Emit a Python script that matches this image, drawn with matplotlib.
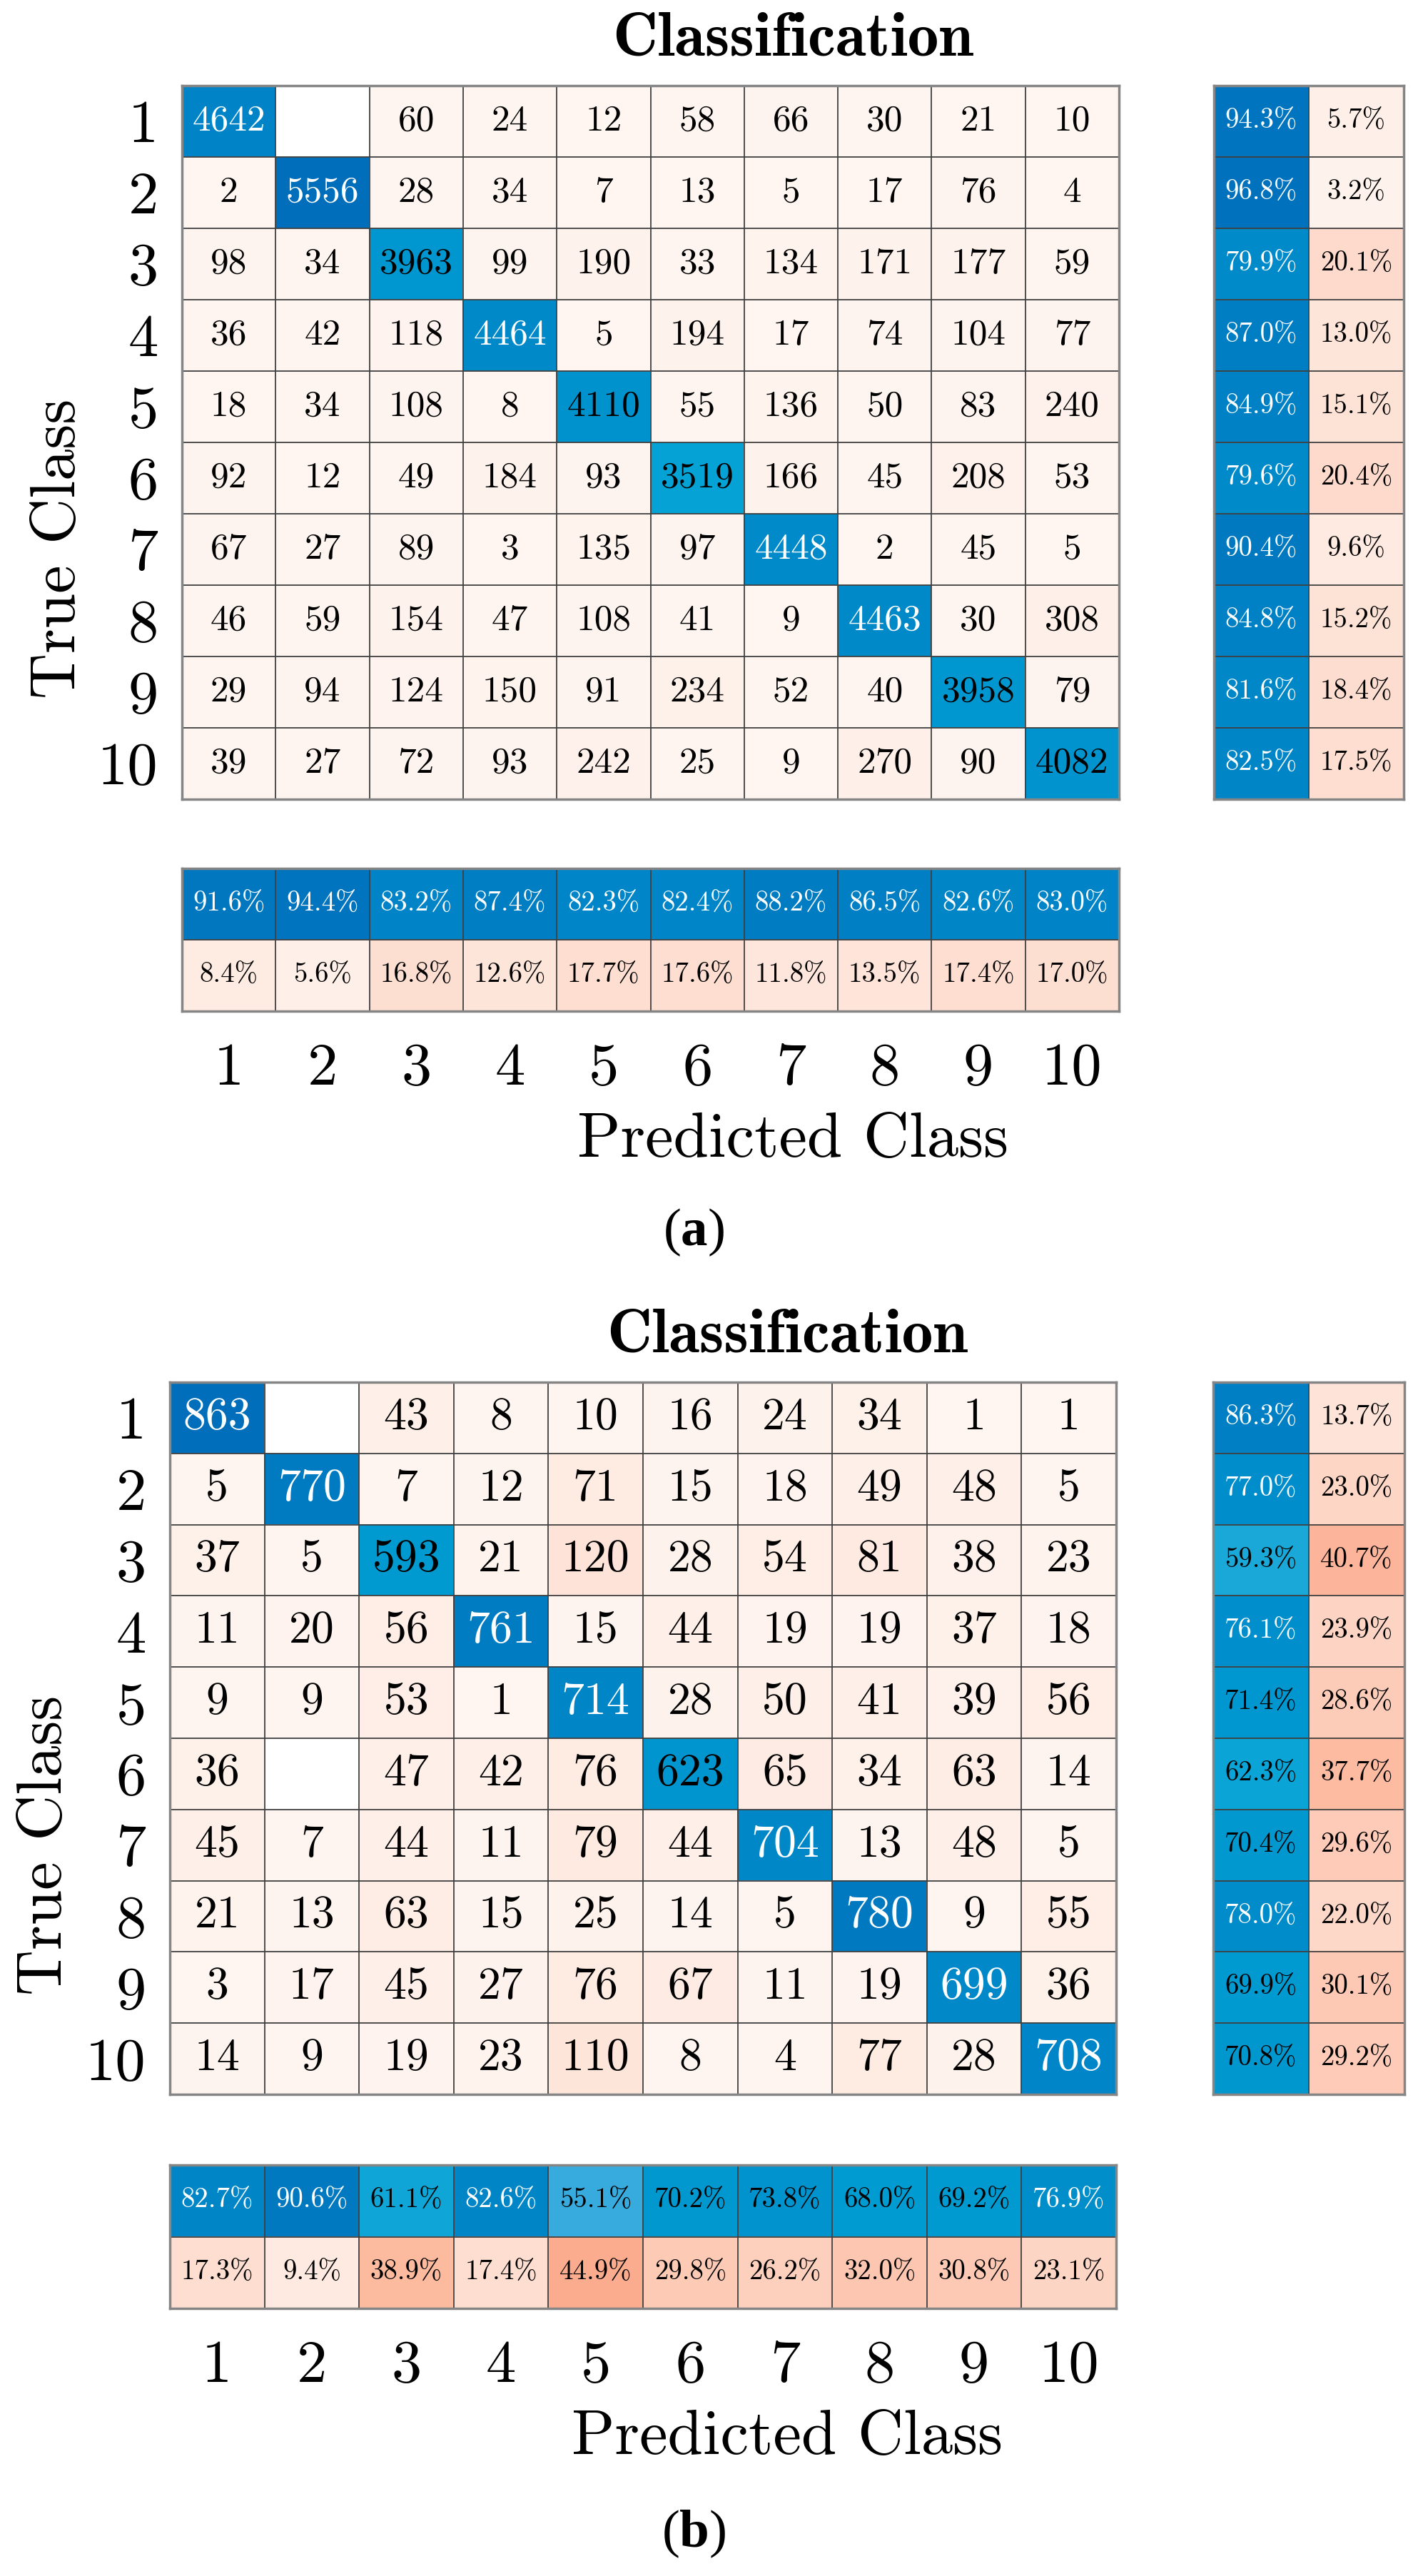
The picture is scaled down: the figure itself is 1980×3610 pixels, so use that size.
import numpy as np
import matplotlib
matplotlib.use('Agg')
import matplotlib.pyplot as plt
from matplotlib.colors import LinearSegmentedColormap

plt.rcParams['mathtext.fontset'] = 'custom'
plt.rcParams['mathtext.bf'] = 'Liberation Serif:bold'
plt.rcParams['mathtext.rm'] = 'Liberation Serif'

classes = [str(i) for i in range(1, 11)]

# (a) confusion matrix, rows = true class, cols = predicted class
counts_a = [
    [4642, 0, 60, 24, 12, 58, 66, 30, 21, 10],
    [2, 5556, 28, 34, 7, 13, 5, 17, 76, 4],
    [98, 34, 3963, 99, 190, 33, 134, 171, 177, 59],
    [36, 42, 118, 4464, 5, 194, 17, 74, 104, 77],
    [18, 34, 108, 8, 4110, 55, 136, 50, 83, 240],
    [92, 12, 49, 184, 93, 3519, 166, 45, 208, 53],
    [67, 27, 89, 3, 135, 97, 4448, 2, 45, 5],
    [46, 59, 154, 47, 108, 41, 9, 4463, 30, 308],
    [29, 94, 124, 150, 91, 234, 52, 40, 3958, 79],
    [39, 27, 72, 93, 242, 25, 9, 270, 90, 4082],
]
row_ok_a = [94.3, 96.8, 79.9, 87.0, 84.9, 79.6, 90.4, 84.8, 81.6, 82.5]
row_err_a = [5.7, 3.2, 20.1, 13.0, 15.1, 20.4, 9.6, 15.2, 18.4, 17.5]
col_ok_a = [91.6, 94.4, 83.2, 87.4, 82.3, 82.4, 88.2, 86.5, 82.6, 83.0]
col_err_a = [8.4, 5.6, 16.8, 12.6, 17.7, 17.6, 11.8, 13.5, 17.4, 17.0]

# (b)
counts_b = [
    [863, 0, 43, 8, 10, 16, 24, 34, 1, 1],
    [5, 770, 7, 12, 71, 15, 18, 49, 48, 5],
    [37, 5, 593, 21, 120, 28, 54, 81, 38, 23],
    [11, 20, 56, 761, 15, 44, 19, 19, 37, 18],
    [9, 9, 53, 1, 714, 28, 50, 41, 39, 56],
    [36, 0, 47, 42, 76, 623, 65, 34, 63, 14],
    [45, 7, 44, 11, 79, 44, 704, 13, 48, 5],
    [21, 13, 63, 15, 25, 14, 5, 780, 9, 55],
    [3, 17, 45, 27, 76, 67, 11, 19, 699, 36],
    [14, 9, 19, 23, 110, 8, 4, 77, 28, 708],
]
row_ok_b = [86.3, 77.0, 59.3, 76.1, 71.4, 62.3, 70.4, 78.0, 69.9, 70.8]
row_err_b = [13.7, 23.0, 40.7, 23.9, 28.6, 37.7, 29.6, 22.0, 30.1, 29.2]
col_ok_b = [82.7, 90.6, 61.1, 82.6, 55.1, 70.2, 73.8, 68.0, 69.2, 76.9]
col_err_b = [17.3, 9.4, 38.9, 17.4, 44.9, 29.8, 26.2, 32.0, 30.8, 23.1]


def rgb(r, g, b):
    return (r / 255, g / 255, b / 255)


blue_cmap = LinearSegmentedColormap.from_list('diag', [
    (0.0, rgb(230, 244, 252)), (0.5, rgb(80, 180, 225)), (0.55, rgb(58, 172, 222)),
    (0.6, rgb(20, 168, 216)), (0.65, rgb(0, 160, 212)), (0.7, rgb(0, 153, 208)),
    (0.75, rgb(0, 145, 205)), (0.8, rgb(0, 138, 202)), (0.85, rgb(0, 130, 198)),
    (0.9, rgb(0, 122, 193)), (0.95, rgb(0, 116, 190)), (1.0, rgb(0, 110, 186))])
red_cmap = LinearSegmentedColormap.from_list('off', [
    (0.0, rgb(255, 246, 242)), (0.05, rgb(254, 240, 233)), (0.14, rgb(254, 228, 216)),
    (0.23, rgb(253, 214, 198)), (0.3, rgb(253, 202, 182)), (0.38, rgb(253, 188, 162)),
    (0.45, rgb(252, 172, 142)), (1.0, rgb(217, 83, 25))])

W, H = 1981, 3610
fig = plt.figure(figsize=(W / 100, H / 100), dpi=100)
FONT = 'cmr10'


def box(left, top, right, bottom):
    return fig.add_axes([left / W, 1 - bottom / H, (right - left) / W, (bottom - top) / H])


def style(ax, nx, ny):
    ax.set_xlim(0.5, nx + 0.5)
    ax.set_ylim(ny + 0.5, 0.5)
    ax.set_xticks(np.arange(1.5, nx), minor=True)
    ax.set_yticks(np.arange(1.5, ny), minor=True)
    ax.grid(which='minor', color='#404040', lw=1.3)
    ax.tick_params(which='both', length=0)
    ax.set_xticks([])
    ax.set_yticks([])
    for s in ax.spines.values():
        s.set_color('#858585')
        s.set_linewidth(2.5)


def pct_text(ax, x, y, v, diag):
    c = 'white' if (diag and v / 100 > 0.75) else 'black'
    ax.text(x, y, f'{v:.1f}%', ha='center', va='center', fontsize=28,
            family=FONT, color=c)


def panel(counts, row_ok, row_err, col_ok, col_err, L, T, R, B, SL, SR, CT, CB,
          cell_fs, ylab_x, tag, tag_y, title_y, tick_pad, ylab_pad):
    m = np.array(counts, dtype=float)
    n = m.shape[0]
    eye = np.eye(n, dtype=bool)
    vmax = m.max()
    ext = (0.5, n + 0.5, n + 0.5, 0.5)

    ax = box(L, T, R, B)
    ax.imshow(np.ma.masked_where(eye | (m == 0), m), cmap=red_cmap, vmin=0, vmax=vmax,
              extent=ext, aspect='auto', interpolation='nearest')
    ax.imshow(np.ma.masked_where(~eye, m), cmap=blue_cmap, vmin=0, vmax=vmax,
              extent=ext, aspect='auto', interpolation='nearest')
    style(ax, n, n)
    ax.set_yticks(np.arange(1, n + 1))
    ax.set_yticklabels(classes, family=FONT, fontsize=61)
    ax.tick_params(axis='y', pad=ylab_pad)
    for i in range(n):
        for j in range(n):
            v = int(counts[i][j])
            if v == 0:
                continue
            c = 'white' if (i == j and v / vmax > 0.75) else 'black'
            ax.text(j + 1, i + 1, str(v), ha='center', va='center',
                    fontsize=cell_fs, family=FONT, color=c)

    # row summary
    rs = np.array([row_ok, row_err]).T
    ax_r = box(SL, T, SR, B)
    ax_r.imshow(np.ma.masked_where(np.tile([False, True], (n, 1)), rs), cmap=blue_cmap,
                vmin=0, vmax=100, extent=(0.5, 2.5, n + 0.5, 0.5), aspect='auto')
    ax_r.imshow(np.ma.masked_where(np.tile([True, False], (n, 1)), rs), cmap=red_cmap,
                vmin=0, vmax=100, extent=(0.5, 2.5, n + 0.5, 0.5), aspect='auto')
    style(ax_r, 2, n)
    for i in range(n):
        pct_text(ax_r, 1, i + 1, row_ok[i], True)
        pct_text(ax_r, 2, i + 1, row_err[i], False)

    # column summary
    cs = np.array([col_ok, col_err])
    ax_c = box(L, CT, R, CB)
    ax_c.imshow(np.ma.masked_where(np.tile([[False], [True]], (1, n)), cs), cmap=blue_cmap,
                vmin=0, vmax=100, extent=(0.5, n + 0.5, 2.5, 0.5), aspect='auto')
    ax_c.imshow(np.ma.masked_where(np.tile([[True], [False]], (1, n)), cs), cmap=red_cmap,
                vmin=0, vmax=100, extent=(0.5, n + 0.5, 2.5, 0.5), aspect='auto')
    style(ax_c, n, 2)
    ax_c.set_xticks(np.arange(1, n + 1))
    ax_c.set_xticklabels(classes, family=FONT, fontsize=61)
    ax_c.tick_params(axis='x', pad=tick_pad)
    for j in range(n):
        pct_text(ax_c, j + 1, 1, col_ok[j], True)
        pct_text(ax_c, j + 1, 2, col_err[j], False)

    cx = (L + SR) / 2
    fig.text(cx / W, 1 - title_y / H, 'Classification', ha='center', va='center',
             family='cmb10', fontsize=63)
    fig.text(cx / W, 1 - (CB + 181) / H, 'Predicted Class', ha='center', va='center',
             family=FONT, fontsize=64)
    fig.text(ylab_x / W, 1 - (T + CB) / 2 / H, 'True Class', ha='center', va='center',
             rotation=90, family=FONT, fontsize=64)
    fig.text(972 / W, 1 - tag_y / H, r'($\mathbf{' + tag + '}$)', ha='center', va='center',
             family='Liberation Serif', fontsize=54)


panel(counts_a, row_ok_a, row_err_a, col_ok_a, col_err_a,
      255, 120, 1568, 1120, 1701, 1967, 1217, 1417,
      cell_fs=37, ylab_x=82, tag='a', tag_y=1727, title_y=56, tick_pad=32, ylab_pad=24)
panel(counts_b, row_ok_b, row_err_b, col_ok_b, col_err_b,
      238, 1937, 1564, 2935, 1700, 1968, 3034, 3235,
      cell_fs=46, ylab_x=63, tag='b', tag_y=3551, title_y=1873, tick_pad=32, ylab_pad=24)

fig.savefig('out.png', dpi=100)
